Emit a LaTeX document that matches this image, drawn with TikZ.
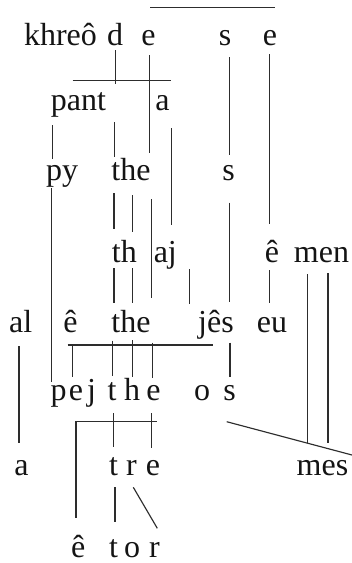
\documentclass[tikz,border=0pt]{standalone}
\usepackage{fontspec}
\setmainfont{Liberation Serif}
\definecolor{ink}{RGB}{20,20,20}
\definecolor{rule}{RGB}{45,45,45}
\begin{document}
\begin{tikzpicture}[x=1pt,y=-1pt,
  syl/.style={inner sep=0pt,anchor=base,text=ink,font=\fontsize{32}{32}\selectfont},
  link/.style={draw=rule,line width=1.15pt}]
\useasboundingbox (0,0) rectangle (352,563);

% row 1
\node[syl] (r1a) at (60.5,45) {khreô};
\node[syl] (r1b) at (115,45) {d};
\node[syl] (r1c) at (148.5,45) {e};
\node[syl] (r1d) at (225,45) {s};
\node[syl] (r1e) at (270,45) {e};
% row 2
\node[syl] (r2a) at (78.5,110) {pant};
\node[syl] (r2b) at (162.5,110) {a};
% row 3
\node[syl] (r3a) at (62,180) {py};
\node[syl] (r3b) at (131,180) {the};
\node[syl] (r3c) at (228.5,180) {s};
% row 4
\node[syl] (r4a) at (124.3,262) {th};
\node[syl] (r4b) at (165.3,262) {aj};
\node[syl] (r4c) at (272,262) {ê};
\node[syl] (r4d) at (321.5,262) {men};
% row 5
\node[syl] (r5a) at (20.7,332) {al};
\node[syl] (r5b) at (70.5,332) {ê};
\node[syl] (r5c) at (131,332) {the};
\node[syl] (r5d) at (216,332) {jês};
\node[syl] (r5e) at (272,332) {eu};
% row 6
\node[syl] (r6a) at (58.5,400) {p};
\node[syl] (r6b) at (76,400) {e};
\node[syl] (r6c) at (91.5,400) {j};
\node[syl] (r6d) at (112,400) {t};
\node[syl] (r6e) at (132,400) {h};
\node[syl] (r6f) at (153.5,400) {e};
\node[syl] (r6g) at (202,400) {o};
\node[syl] (r6h) at (229.5,400) {s};
% row 7
\node[syl] (r7a) at (21.5,475) {a};
\node[syl] (r7b) at (113.5,475) {t};
\node[syl] (r7c) at (131.5,475) {r};
\node[syl] (r7d) at (153,475) {e};
\node[syl] (r7e) at (322.5,475) {mes};
% row 8
\node[syl] (r8a) at (78.3,557) {ê};
\node[syl] (r8b) at (113.5,557) {t};
\node[syl] (r8c) at (132,557) {o};
\node[syl] (r8d) at (154.5,557) {r};

% horizontal bars
\draw[link] (150,7.5) -- (275,7.5);
\draw[link] (72.7,80.3) -- (170.7,80.3);
\draw[link] (67.7,345) -- (213.3,345);
\draw[link] (75,421.7) -- (156.7,421.7);

% verticals from row 1
\draw[link] (115.7,50) -- (115.7,84);
\draw[link] (149.7,55) -- (149.7,153);
\draw[link] (229.3,57) -- (229.3,155);
\draw[link] (269.3,54) -- (269.3,224);
% from row 2
\draw[link] (52.3,125) -- (52.3,159);
\draw[link] (114.3,122) -- (114.3,157);
\draw[link] (171.7,128) -- (171.7,225);
% from row 3
\draw[link] (51.7,188) -- (51.7,382);
\draw[link] (114,193.3) -- (114,229.3);
\draw[link] (132.7,195) -- (132.7,231.7);
\draw[link] (151.7,199.3) -- (151.7,298.3);
\draw[link] (229.3,202.7) -- (229.3,301.7);
% from row 4
\draw[link] (114,268.3) -- (114,303);
\draw[link] (132.7,268.3) -- (132.7,303);
\draw[link] (189.5,269.3) -- (189.5,304);
\draw[link] (269.3,270) -- (269.3,303.3);
\draw[link] (307.7,274) -- (307.7,443.3);
\draw[link] (328,273) -- (328,443.3);
% from row 5
\draw[link] (19,346) -- (19,443);
\draw[link] (72.7,345) -- (72.7,376.7);
\draw[link] (112.3,340.7) -- (112.3,376);
\draw[link] (132.7,340) -- (132.7,376.7);
\draw[link] (152.7,342.7) -- (152.7,378);
\draw[link] (230,342.7) -- (230,377.3);
% from row 6
\draw[link] (76,421.7) -- (76,518);
\draw[link] (113.3,413) -- (113.3,446.7);
\draw[link] (151.7,413) -- (151.7,447.5);
\draw[link] (226.7,421.7) -- (355,455.8);
% from row 7
\draw[link] (115,487) -- (115,521.7);
\draw[link] (133.3,487.3) -- (157.3,528.3);
\end{tikzpicture}
\end{document}
